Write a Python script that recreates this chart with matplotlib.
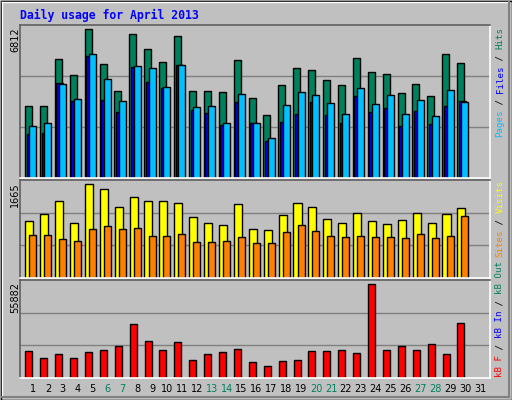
import numpy as np
import matplotlib.pyplot as plt
from matplotlib.patches import Rectangle

days = np.arange(1, 32)
hits = [3298, 3298, 5471, 4731, 6812, 5240, 3992, 6581, 5934, 5333, 6488, 3992, 3992, 3945, 5425, 3668, 2882, 4269, 5055, 4963, 4500, 4269, 5517, 4870, 4778, 3899, 4315, 3761, 5702, 5286]
files = [2373, 2512, 4315, 3622, 5702, 4547, 3529, 5148, 5055, 4177, 5194, 3252, 3298, 2512, 3853, 2512, 1819, 3344, 3945, 3807, 3437, 2928, 4130, 3391, 3807, 2928, 3576, 2836, 4038, 3483]
pages = [2004, 2050, 4362, 3529, 5610, 3576, 3021, 5101, 4408, 4130, 5194, 3113, 2975, 2420, 3483, 2512, 1680, 2558, 2928, 3483, 2882, 2512, 3761, 3021, 3206, 2373, 3067, 2466, 3298, 3529]
visits = [1013, 1140, 1357, 977, 1665, 1574, 1267, 1430, 1357, 1357, 1321, 1085, 977, 941, 1303, 869, 851, 1122, 1321, 1267, 1049, 977, 1158, 1013, 959, 1031, 1158, 977, 1140, 1249]
sites = [760, 760, 688, 652, 869, 923, 869, 887, 742, 742, 778, 633, 633, 652, 724, 615, 615, 814, 941, 832, 742, 724, 742, 724, 724, 706, 778, 706, 742, 1104]
kbytes = [16256, 11785, 14223, 11785, 15443, 16662, 19101, 31904, 22150, 16662, 21541, 10566, 14223, 15443, 17272, 9347, 6908, 9956, 10566, 16256, 16256, 16662, 14833, 55882, 16662, 19101, 16662, 20321, 14223, 32513]

GREEN = '#00805c'
W, H = 512, 400
fig = plt.figure(figsize=(W / 100, H / 100), dpi=100)
fig.patch.set_facecolor('#c0c0c0')
mono = 'DejaVu Sans Mono'

# frame
bg = fig.add_axes([0, 0, 1, 1])
bg.set_xlim(0, W); bg.set_ylim(H, 0); bg.axis('off')
bg.add_patch(Rectangle((0.5, 0.5), W - 1, H - 1, fill=False, ec='black', lw=1))
bg.plot([2, W - 3], [2, 2], color='white', lw=1)
bg.plot([2, 2], [2, H - 3], color='white', lw=1)
bg.plot([2, W - 3], [H - 3, H - 3], color='#808080', lw=1.5)
bg.plot([W - 3, W - 3], [2, H - 3], color='#808080', lw=1.5)
bg.text(20, 15, 'Daily usage for April 2013', color='#0000ff', family=mono,
        fontweight='bold', fontsize=8.3, va='center', ha='left')

x0 = 0.128
x1 = 31.67

def panel(top, bottom, ytop):
    ax = fig.add_axes([20 / W, 1 - bottom / H, 470 / W, (bottom - top) / H])
    ax.set_xlim(x0, x1)
    ax.set_ylim(0, ytop)
    ax.set_facecolor('#c0c0c0')
    for s in ax.spines.values():
        s.set_linewidth(1.2)
    ax.spines['top'].set_color('#606060')
    ax.spines['left'].set_color('#606060')
    ax.spines['bottom'].set_color('white')
    ax.spines['right'].set_color('white')
    ax.set_xticks([]); ax.set_yticks([])
    for f in (1 / 3, 2 / 3):
        ax.axhline(f * ytop, color='#808080', lw=1, zorder=0)
    return ax

d = days[:30]
ax1 = panel(25, 178, 7012)
ax1.bar(d - 0.30, hits, 0.47, color=GREEN, ec='black', lw=1)
ax1.bar(d - 0.19, pages, 0.47, color='#0000ff', ec='black', lw=1)
ax1.bar(d - 0.01, files, 0.47, color='#00c0ff', ec='black', lw=1)

ax2 = panel(180, 278, 1737)
ax2.bar(d - 0.25, visits, 0.54, color='#ffff00', ec='black', lw=1)
ax2.bar(d - 0.01, sites, 0.47, color='#ff8000', ec='black', lw=1)

ax3 = panel(280, 378, 58117)
ax3.bar(d - 0.28, kbytes, 0.47, color='#ff0000', ec='black', lw=1)

# max value labels
for ytop, val in ((27, max(hits)), (182, max(visits)), (282, max(kbytes))):
    bg.text(15, ytop, str(val), rotation=90, ha='center', va='top', fontsize=7, color='black')

# right-side labels, reading upward
def side_label(ybottom, parts):
    y = ybottom
    for txt, col in parts:
        bg.text(500, y, txt, rotation=90, ha='center', va='bottom', family=mono,
                fontsize=6.6, color=col)
        y -= len(txt) * 5.5

side_label(137, [('Pages', '#00c0ff'), (' / ', '#000000'), ('Files', '#0000ff'), (' / ', '#000000'), ('Hits', GREEN)])
side_label(257, [('Sites', '#ff8000'), (' / ', '#000000'), ('Visits', '#ffff00')])
side_label(377, [('kB F', '#ff0000'), (' / ', '#000000'), ('kB In', '#0000ff'), (' / ', '#000000'), ('kB Out', GREEN)])

# day labels
weekend = {6, 7, 13, 14, 20, 21, 27, 28}
for i in days:
    px = 20 + (i - x0) / (x1 - x0) * 470
    bg.text(px, 389, str(i), ha='center', va='center', fontsize=7,
            color=GREEN if i in weekend else 'black')

fig.savefig('out.png', dpi=100, facecolor=fig.get_facecolor())
